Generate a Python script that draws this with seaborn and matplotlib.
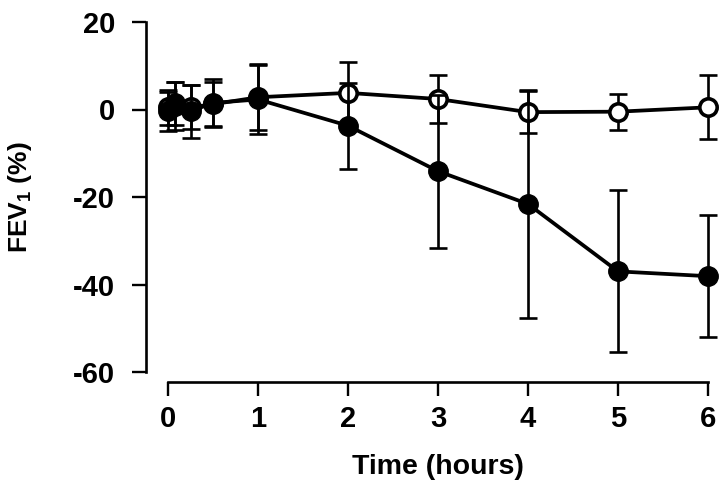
import matplotlib
matplotlib.use("Agg")
import matplotlib.pyplot as plt
import seaborn as sns
import pandas as pd

# Data
times = [0, 0.083, 0.25, 0.5, 1, 2, 3, 4, 5, 6]
closed_mean = [-0.4, 1.4, -0.4, 1.5, 2.3, -3.7, -14.1, -21.6, -37.0, -38.1]
closed_err = [4.5, 5.0, 6.0, 5.5, 7.8, 9.8, 17.5, 26.0, 18.5, 14.0]
open_mean = [0.5, 0.8, 0.5, 1.2, 2.8, 3.8, 2.4, -0.6, -0.5, 0.5]
open_err = [4.0, 5.5, 5.0, 5.0, 7.5, 7.0, 5.5, 4.8, 4.1, 7.3]
xticks = [0, 1, 2, 3, 4, 5, 6]
yticks = [-60, -40, -20, 0, 20]

sns.set_theme(style="ticks")
plt.rcParams['font.family'] = ['Liberation Sans', 'DejaVu Sans']
plt.rcParams['font.weight'] = 'bold'
plt.rcParams['text.color'] = 'black'
plt.rcParams['axes.labelcolor'] = 'black'
plt.rcParams['xtick.color'] = 'black'
plt.rcParams['ytick.color'] = 'black'
plt.rcParams['mathtext.fontset'] = 'custom'
plt.rcParams['mathtext.rm'] = 'Liberation Sans:bold'
plt.rcParams['mathtext.it'] = 'Liberation Sans:bold'
plt.rcParams['mathtext.bf'] = 'Liberation Sans:bold'

fig = plt.figure(figsize=(7.2, 4.87), dpi=100)
ax = fig.add_axes([168/720, 1 - 372/487, 540/720, 350/487])

df_open = pd.DataFrame({"t": times, "v": open_mean})
df_closed = pd.DataFrame({"t": times, "v": closed_mean})

lw = 2.7
elw = 1.9
# open series first (behind)
ax.errorbar(times, open_mean, yerr=open_err, fmt='none', ecolor='black',
            elinewidth=elw, capsize=6.8, capthick=elw, clip_on=False, zorder=2)
sns.lineplot(data=df_open, x="t", y="v", ax=ax, color='black', linewidth=lw,
             marker='o', markersize=12.5, markerfacecolor='white',
             markeredgecolor='black', markeredgewidth=2.6, clip_on=False, zorder=3)
# closed series on top
ax.errorbar(times, closed_mean, yerr=closed_err, fmt='none', ecolor='black',
            elinewidth=elw, capsize=6.8, capthick=elw, clip_on=False, zorder=4)
sns.lineplot(data=df_closed, x="t", y="v", ax=ax, color='black', linewidth=lw,
             marker='o', markersize=14, markerfacecolor='black',
             markeredgecolor='black', markeredgewidth=1, clip_on=False, zorder=5)

sns.despine(ax=ax)
ax.spines['left'].set_position(('outward', 16))
ax.spines['bottom'].set_position(('outward', 7))
for s in ['left', 'bottom']:
    ax.spines[s].set_linewidth(1.9)
    ax.spines[s].set_color('black')

ax.set_xlim(0, 6)
ax.set_ylim(-60, 20)
ax.set_xticks(xticks)
ax.set_yticks(yticks)
ax.set_xticklabels([str(t) for t in xticks])
ax.set_yticklabels([str(t) for t in yticks])
ax.tick_params(axis='both', length=10, width=1.7, color='black', direction='out',
               labelsize=21, labelcolor='black')
ax.tick_params(axis='y', pad=12)
ax.tick_params(axis='x', pad=7)
for lab in ax.get_xticklabels() + ax.get_yticklabels():
    lab.set_fontweight('bold')

ax.set_xlabel("Time (hours)", fontsize=20.5, fontweight='bold', labelpad=15, color='black')
ax.set_ylabel("FEV$_1$ (%)", fontsize=19, fontweight='bold', labelpad=28, color='black')
leg = ax.get_legend()
if leg is not None:
    leg.remove()

fig.savefig("out.png", dpi=100)
